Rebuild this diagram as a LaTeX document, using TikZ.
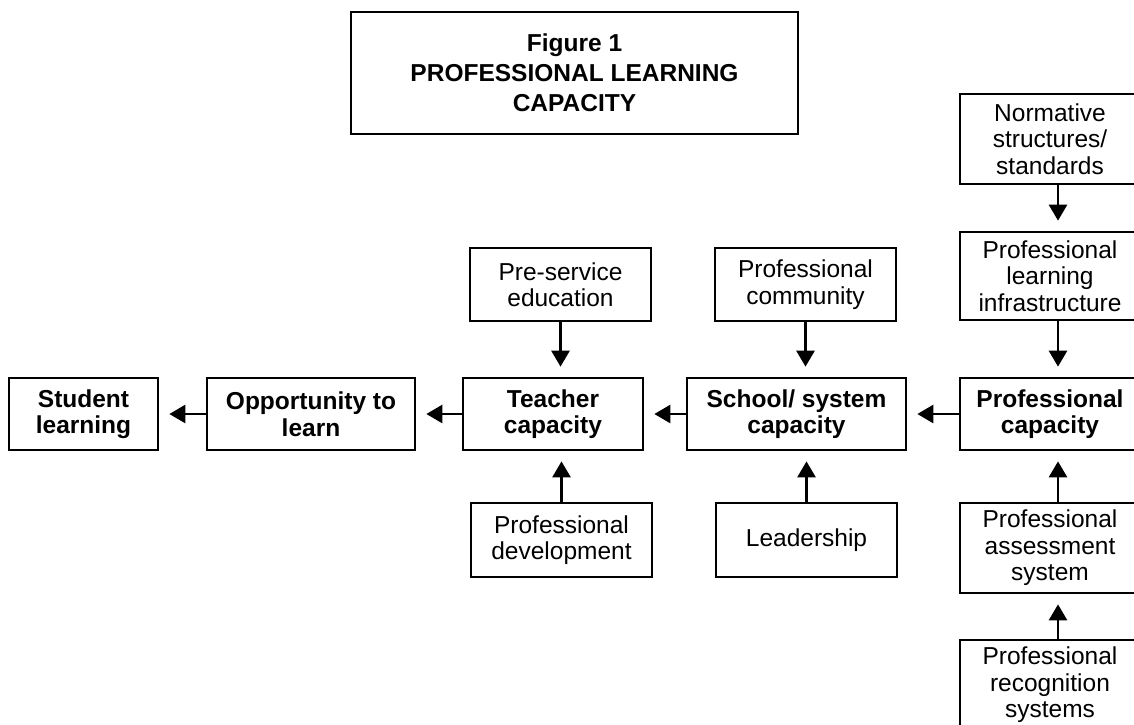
\documentclass[tikz,border=0pt]{standalone}
\usepackage{fontspec}
\setmainfont{Liberation Sans}
\usetikzlibrary{arrows.meta}
\tikzset{
  box/.style={draw, line width=2.7pt, inner sep=0pt, align=center,
    font=\fontsize{24.5}{26.5}\selectfont},
  boldbox/.style={box, font=\fontsize{24.5}{26.5}\selectfont\bfseries},
  arr/.style={line width=2.7pt, -{Triangle[length=16pt,width=18pt]}, shorten >=10pt}
}
\begin{document}
\begin{tikzpicture}[x=1pt,y=-1pt]
\useasboundingbox (0,0) rectangle (1134,724);
\clip (0,0) rectangle (1134,724);
\node[boldbox, minimum width=447pt, minimum height=122pt,
  font=\fontsize{24.5}{30}\selectfont\bfseries] (title) at (574.5,73)
  {Figure 1\\PROFESSIONAL LEARNING\\CAPACITY};
\node[boldbox, minimum width=149pt, minimum height=72pt] (student) at (83.5,414) {Student\\learning};
\node[boldbox, minimum width=208pt, minimum height=72pt] (opp) at (311,414) {Opportunity to\\learn};
\node[boldbox, minimum width=180pt, minimum height=72pt] (teacher) at (553,414) {Teacher\\capacity};
\node[boldbox, minimum width=219pt, minimum height=72pt] (school) at (796.5,414) {School/ system\\capacity};
\node[boldbox, minimum width=180pt, minimum height=72pt] (profcap) at (1050,414) {Professional\\capacity};
\node[box, minimum width=180pt, minimum height=90pt] (norm) at (1050,139) {Normative\\structures/\\standards};
\node[box, minimum width=180pt, minimum height=88pt] (infra) at (1050,276) {Professional\\learning\\infrastructure};
\node[box, minimum width=180pt, minimum height=90pt] (assess) at (1050,548) {Professional\\assessment\\system};
\node[box, minimum width=180pt, minimum height=90pt] (recog) at (1050,685) {Professional\\recognition\\systems};
\node[box, minimum width=181pt, minimum height=73pt] (pre) at (560.5,284.5) {Pre-service\\education};
\node[box, minimum width=181pt, minimum height=73pt] (comm) at (805.5,284.5) {Professional\\community};
\node[box, minimum width=181pt, minimum height=74pt] (pd) at (561.5,540) {Professional\\development};
\node[box, minimum width=181pt, minimum height=74pt] (lead) at (806.5,540) {Leadership};
% horizontal arrows
\draw[arr] (opp.west) -- (student.east);
\draw[arr] (teacher.west) -- (opp.east);
\draw[arr] (school.west) -- (teacher.east);
\draw[arr] (profcap.west) -- (school.east);
% vertical arrows middle
\draw[arr] (pre.south) -- (pre.south |- teacher.north);
\draw[arr] (comm.south) -- (comm.south |- school.north);
\draw[arr] (pd.north) -- (pd.north |- teacher.south);
\draw[arr] (lead.north) -- (lead.north |- school.south);
% right column
\draw[arr] ([xshift=8pt]norm.south) -- ([xshift=8pt]infra.north);
\draw[arr] ([xshift=8pt]infra.south) -- ([xshift=8pt]profcap.north);
\draw[arr] ([xshift=8pt]assess.north) -- ([xshift=8pt]profcap.south);
\draw[arr] ([xshift=8pt]recog.north) -- ([xshift=8pt]assess.south);
\end{tikzpicture}
\end{document}
